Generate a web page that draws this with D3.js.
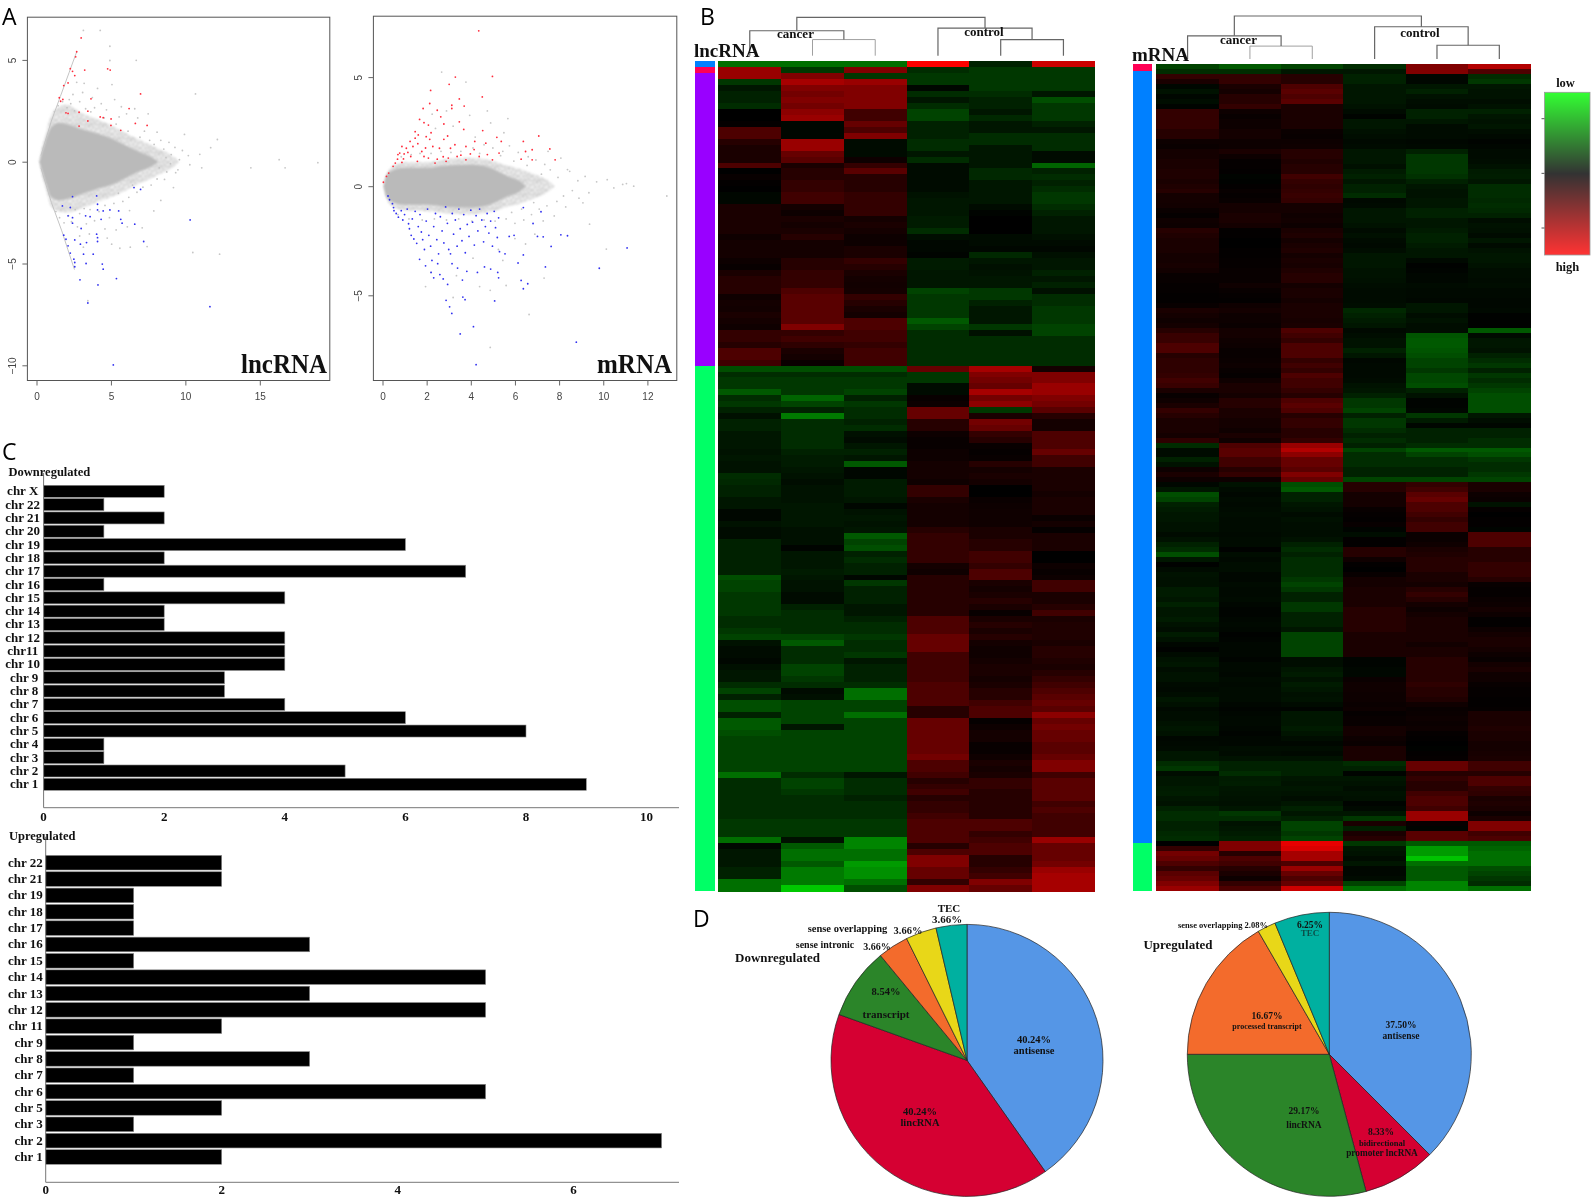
<!DOCTYPE html>
<html>
<head>
<meta charset="utf-8">
<title>lncRNA and mRNA expression</title>
<script src="https://cdn.jsdelivr.net/npm/d3@7"></script>
<style>
    html, body { margin: 0; padding: 0; background: #fff; }
    svg { display: block; filter: blur(0.45px); }
    .serif { font-family: "Liberation Serif", serif; font-weight: bold; fill: #111; }
    .letter { font-family: "Open Sans", sans-serif; font-size: 23px; fill: #000; }
</style>
</head>
<body>
<script>
// ---- panel A: MA plots, [A, M] ----
var lncEdgeUp = [[0.3, 0.3], [1, 2], [1.6, 3.2], [2.2, 4.4], [2.7, 5.4]];
var lncEdgeDown = [[0.3, -0.3], [1, -2], [1.7, -3.4], [2.1, -4.3], [2.55, -5.3]];
var lncHalo = [[0.2, 0, 0], [0.3, 0.45, -0.45], [0.6, 1.3, -1.25], [1, 2.3, -2.2], [1.5, 2.7, -2.45], [2, 2.8, -2.5], [3, 2.4, -2.3], [4, 2.1, -2], [5, 1.8, -1.75], [6, 1.4, -1.4], [7, 1.05, -1.05], [8, 0.7, -0.7], [9, 0.35, -0.35], [9.6, 0, 0]];
var lncCore = [[0.2, 0, 0], [0.35, 0.4, -0.4], [0.6, 1, -1], [1, 1.7, -1.75], [1.5, 1.9, -1.9], [2, 1.85, -1.85], [3, 1.6, -1.6], [4, 1.4, -1.35], [5, 1.15, -1.15], [6, 0.8, -0.8], [7, 0.45, -0.45], [7.8, 0.2, -0.2], [8.2, 0, 0]];
var lncGray = [[16.7, -0.3], [16.3, 0.1], [18.9, -0.05], [14.4, -0.3], [12.3, -4.54], [10.5, -4.46], [10.68, 3.33], [9.94, 1.34], [12.15, 1.09], [11.7, 0.69], [10.97, 0.36], [11.1, -0.3], [9.35, -0.54], [9.2, -1.27], [8.6, -0.87], [7.88, -2.42], [7.43, -4.17], [6.3, -4.2], [5.05, -4.05], [4.6, -3.3], [3.45, -6.83], [3.15, 6.45], [4.28, 6.45], [4.93, 5.67], [4.93, 4.97], [6.7, 4.98], [5.07, 3.79], [4.1, 3.6], [3.2, 3.85], [2.7, 3.9], [3.1, 3.4], [2.45, 3.3], [2.2, 3.05], [3.75, 3.15], [4.35, 2.85], [5.25, 3.05], [5.7, 2.7], [6.6, 2.6], [6.05, 2.35], [4.7, 2.55], [3.9, 2.65], [2.9, 2.95], [2.3, 2.85], [5.55, 2.2], [6.8, 2.15], [7.5, 2.35], [7.25, 1.5], [8.1, 1.45], [8.35, 1.05], [8.9, 0.95], [9.3, 0.7], [9.8, 0.55], [10.2, 0.3], [9.05, 0.35], [8.55, 0.62], [7.9, 0.85], [9.6, 0.1], [10.3, -0.15], [9.5, -0.4], [8.75, -0.5], [8.1, -0.85], [7.7, -1.15], [7.15, -1.25], [6.75, -1.5], [6.2, -1.75], [5.8, -1.95], [5.2, -2.05], [4.6, -2.15], [3.6, -2.35], [2.9, -2.55], [2.35, -2.95], [2.75, -3.2], [3.35, -3.05], [3.9, -2.9], [4.9, -2.75], [6.25, -2.4], [6.1, -3.2], [5.35, -3.35], [4.75, -3.75], [3.55, -3.55], [2.9, -3.65], [3.15, -4.2], [5.6, -4.25], [7.1, -3.25], [8.35, -1.9], [1.2, 2.45], [1.45, 2.75], [1.75, 2.95], [2.05, 2.65], [2.55, 2.5], [3.3, 2.6], [1.3, -2.45], [1.55, -2.75], [1.85, -3], [2.15, -2.65], [2.6, -2.35], [3.2, -2.3], [4.2, -2.45], [5.5, -1.55], [6.45, -1.15], [6.95, 1.2], [6.15, 1.5], [5.35, 1.85], [4.55, 2.15], [3.65, 2.45], [7.6, 1.05], [8.7, 0.2], [8.25, -0.3], [9, -0.1]];
var lncRed = [[3, 6.08], [2.7, 5.4], [2.63, 5.15], [2.27, 4.57], [2.42, 4.44], [2.57, 4.23], [3.24, 4.5], [4.78, 4.56], [4.95, 4.5], [2.12, 3.87], [1.83, 3.74], [1.53, 3.14], [1.77, 3.06], [1.62, 2.97], [3.66, 3.09], [6.99, 3.33], [6.22, 2.61], [1.98, 2.4], [2.12, 2.37], [2.86, 2.43], [3.45, 2.48], [4.28, 2.2], [4.48, 2.16], [5.01, 2.1], [3.45, 2], [2.86, 1.75], [5, 1.78], [6.64, 1.88], [7.43, 1.78], [5.66, 1.54]];
var lncBlue = [[6.99, -1.36], [6.55, -1.27], [2.42, -1.72], [4.04, -1.68], [4.1, -2.09], [1.74, -2.17], [2.27, -2.25], [4.1, -2.37], [4.48, -2.42], [4.93, -2.37], [5.52, -2.42], [2.12, -2.66], [3.3, -2.66], [3.6, -2.7], [2.42, -2.75], [4.34, -2.83], [5.66, -2.83], [10.32, -2.86], [5.75, -3.02], [6.6, -3.07], [3, -3.28], [2.42, -3.02], [1.83, -3.61], [4.04, -3.56], [4.1, -3.73], [1.98, -3.81], [2.57, -3.84], [4.1, -3.92], [7.2, -3.92], [2.12, -4.13], [2.95, -4.05], [3.36, -3.97], [2.27, -4.49], [3.16, -4.54], [3.81, -4.54], [2.51, -4.79], [2.57, -4.95], [3.33, -5], [4.42, -5.03], [2.57, -5.16], [4.48, -5.28], [5.37, -5.74], [2.92, -5.8], [4.13, -6.05], [3.45, -6.94], [11.65, -7.12], [5.16, -9.98]];

var mrnaHalo = [[0.05, 0, 0], [0.2, 0.6, -0.6], [0.5, 0.95, -0.95], [1, 1.1, -1.1], [2, 1.1, -1.15], [3, 1.25, -1.25], [4, 1.3, -1.3], [5, 1.15, -1.15], [5.6, 0.95, -0.95], [6.2, 0.8, -0.8], [7, 0.5, -0.5], [7.5, 0.25, -0.25], [7.8, 0, 0]];
var mrnaCore = [[0.05, 0, 0], [0.15, 0.4, -0.4], [0.4, 0.7, -0.7], [1, 0.85, -0.85], [2, 0.85, -0.85], [3, 0.95, -0.95], [4, 0.98, -0.98], [4.7, 0.9, -0.9], [5.2, 0.7, -0.7], [5.7, 0.45, -0.45], [6.2, 0.25, -0.25], [6.5, 0, 0]];
var mrnaGray = [[12.88, -0.45], [11.38, 0], [10.88, 0.08], [10.48, -0.08], [10.18, 0.3], [9.18, 0.45], [9.08, -0.76], [8.38, 0.76], [8.08, 1.29], [8.48, 0.68], [9.38, -1.74], [10.14, -2.88], [4.88, -7.39], [6.64, -5.88], [7.32, -4.21], [7.78, -1.36], [7.28, -1.59], [2.68, 5.23], [3.78, 4.77], [5.68, 3.1], [4.88, -4.77], [6.48, -2.65], [11.05, 0.12], [9.7, 0.2], [9.35, -0.3], [8.85, 0.25], [8.6, -0.2], [8.2, -0.45], [7.95, 0.4], [7.6, 0.75], [7.35, 1], [6.95, 1.2], [6.6, 1.35], [6.15, 1.55], [5.75, 1.85], [5.45, 1.6], [5, 1.75], [4.6, 1.9], [4.1, 1.75], [3.55, 1.6], [3.1, 1.55], [2.65, 1.6], [2.2, 1.5], [1.7, 1.5], [1.3, 1.45], [0.85, 1.35], [8.9, -0.55], [8.3, -0.95], [7.9, -0.7], [7.45, -0.9], [7.1, -1.05], [6.75, -1.3], [6.4, -1.55], [6, -1.7], [5.6, -1.5], [5.1, -1.6], [4.6, -1.55], [4.05, -1.6], [3.45, -1.5], [2.9, -1.55], [2.35, -1.5], [1.8, -1.55], [1.2, -1.5], [0.7, -1.3], [6.85, -0.75], [7.2, 0.55], [6.55, 0.95], [5.95, 1.15], [6.3, -1.05], [5.85, -1.2], [5.35, 1.4], [4.4, 1.5], [2.4, 2.65], [3.2, 2.75], [3.95, 3.25], [4.9, 2.9], [5.5, 2.45], [4.2, 2.25], [2.9, 3.45], [2.25, 3.3], [4.75, 3.45], [7.5, 1.6], [6.9, -2.2], [6, -2.4], [5.25, -2.9], [4.1, -3.3], [3.35, -4.1], [2.2, -3.95], [1.95, -4.6], [5.45, -3.4], [4.4, -4.6], [3.2, -5.1], [5.6, -4.55]];
var mrnaRed = [[4.36, 7.12], [3.3, 5], [4.98, 5.03], [3.02, 4.67], [2.18, 4.39], [4.52, 4.09], [3.48, 4], [3.14, 3.71], [3.7, 3.67], [2.14, 3.79], [1.84, 3.56], [2.48, 3.48], [3.14, 3.56], [2.64, 3.18], [1.68, 3.06], [1.88, 2.91], [2.08, 2.8], [2.78, 2.85], [3.48, 2.95], [3.68, 2.6], [4.54, 2.55], [7.08, 2.3], [5.18, 2.24], [1.48, 2.5], [1.62, 2.35], [1.98, 2.27], [2.14, 2.15], [2.78, 2.15], [1.48, 2.2], [6.38, 2.05], [4.18, 2.05], [3.28, 1.9], [3.78, 1.82], [5.38, 2.05], [0.88, 1.82], [1.08, 1.74], [1.38, 1.82], [1.78, 1.59], [2.28, 1.82], [2.58, 1.74], [3.08, 1.74], [7.58, 1.71], [4.68, 1.97], [6.78, 1.67], [6.48, 1.59], [0.78, 1.52], [0.98, 1.48], [1.28, 1.36], [1.88, 1.36], [2.08, 1.29], [2.48, 1.24], [2.98, 1.29], [3.38, 1.36], [3.98, 1.48], [4.38, 1.36], [5.28, 1.52], [6.28, 1.24], [6.78, 1.21], [7.82, 1.21], [0.68, 1.24], [0.58, 1.06], [0.88, 1.09], [1.58, 1.14], [2.38, 1.06], [2.88, 1.14], [3.78, 1.21], [4.98, 1.21], [0.48, 0.91], [0.28, 0.6], [0.18, 0.45], [0.04, 0.18], [1.15, 1.55], [1.6, 1.95], [2.2, 2.45], [2.95, 2.3], [3.55, 1.42], [4.75, 1.45], [0.7, 1.45], [0.95, 1.25], [1.95, 1.75], [2.75, 1.35], [4.15, 1.68], [1.25, 2.05]];
var mrnaBlue = [[11.08, -2.83], [9.82, -3.76], [8.78, -7.15], [4.24, -8.18], [3.52, -6.77], [4.12, -6.44], [3.04, -5.53], [2.88, -5.23], [3.64, -5.08], [3.74, -5.2], [5.08, -5.26], [3.14, -5.83], [6.38, -4.7], [6.58, -4.47], [6.28, -4.32], [7.38, -3.7], [6.38, -3.15], [6.14, -3.52], [8.38, -2.27], [8.08, -2.23], [7.64, -2.76], [7.28, -2.32], [7.02, -2.3], [7.18, -1.17], [6.82, -1.71], [6.38, -0.98], [0.25, -0.45], [0.32, -0.62], [0.45, -0.8], [0.5, -0.98], [0.52, -1.12], [0.62, -1.25], [0.72, -1.42], [0.85, -1.12], [0.92, -1.55], [1, -1.3], [1.12, -1.05], [1.18, -1.72], [1.22, -1.95], [1.3, -2.25], [1.35, -1.5], [1.42, -2.42], [1.48, -1.15], [1.55, -2.62], [1.62, -1.85], [1.7, -1.3], [1.76, -2.1], [1.82, -2.45], [1.9, -2.9], [1.98, -1.6], [2.04, -1.05], [2.1, -2.25], [2.18, -2.75], [2.24, -3.4], [2.32, -1.85], [2.4, -1.25], [2.46, -2.45], [2.54, -3.1], [2.62, -1.4], [2.7, -2.05], [2.78, -2.6], [2.86, -0.95], [2.94, -1.7], [3, -2.9], [3.08, -3.1], [3.16, -1.25], [3.22, -2.2], [3.3, -1.55], [3.38, -2.75], [3.46, -1.05], [3.52, -1.95], [3.6, -2.5], [3.68, -1.3], [3.75, -3.05], [3.84, -1.75], [3.92, -2.3], [4, -1.1], [4.08, -1.65], [4.16, -2.7], [4.24, -1.35], [4.32, -2.05], [4.4, -1.05], [4.5, -1.55], [4.58, -2.55], [4.66, -1.85], [4.74, -1.25], [4.82, -2.15], [4.9, -1.6], [4.98, -2.75], [5.06, -1.15], [5.12, -1.9], [5.2, -2.35], [5.26, -1.45], [5.3, -3], [5.74, -2.3], [5.96, -2.25], [1.68, -3.35], [1.95, -3.65], [2.2, -3.95], [2.5, -3.55], [2.32, -4.2], [2.6, -4.05], [2.95, -4.5], [2.75, -4.25], [3.4, -3.75], [3.82, -3.9], [3.62, -4.3], [4.3, -3.95], [4.62, -3.7], [4.9, -3.8], [5.22, -3.95], [5.26, -4.2], [3.15, -3.55], [5.55, -3.1]];
// dots of the tile that fills the thin outer part of each cloud
var stippleDots = [[1.5, 2], [5, 0.8], [9.2, 1.6], [12.4, 3], [3.2, 5], [7, 4.4], [10.8, 6], [0.8, 8], [5.4, 8.2], [8.6, 7.8], [12.8, 8.6], [2.6, 11], [6.6, 11.4], [10.2, 10.4], [1, 13], [4.6, 13.2], [8.2, 12.8], [12, 12.4]];

// ---- panel B: heatmap rows, one value per sample, minus = green, plus = red ----
var lncRows = [
    [-5,-5,-5,10,-1.5,8], [6,-2.5,5,-2,-2.5,-2.5], [6,5,-2.5,-2.5,-2.5,-2.5], [-2.5,6.5,6,-2.5,-2.5,-2.5], [-1,5,5,-0.3,-2.5,-2.5],
    [-1.5,4.5,5,-2,-2,-1], [-1.5,5,5,-1,-1.5,-3.5], [-2,4.5,5,-2,-1.5,-2.5], [0,5.5,2.5,-3,-1,-2.5], [0,6,2.5,-3,-1.8,-2.5],
    [0.2,-0.3,4,-1.5,-1,-1.5], [3,-0.3,3,-1.5,-1,-1], [3,-0.3,5,-1.5,-2,-2], [1.5,6,-0.5,-2,-2,-2], [1,6,-0.5,-2,-1,-2],
    [1,4,-0.5,-1,-1,-0.5], [1,3.5,0.5,-2,-1,-0.5], [3,1,2,-0.5,-1,-4.5], [0,1.5,3.5,-0.5,-1.8,-1.5], [0.3,1.5,1.5,-0.5,-1.8,-2],
    [0.1,2,1.5,-0.5,-1,-1.5], [0,2,1.5,-0.5,-1,-2], [-0.3,2.5,2,-0.8,-1,-2.5], [-0.3,2.5,2,-1,-1,-2.5], [1,0.8,2,-1,-0.5,-2],
    [1,0.5,2,-1,-0.2,-1.5], [1,1,0.8,-1.2,0,-1], [1,0.8,1,-1.2,0,-1], [1,1,0.8,-2,0,-1], [0.6,1.5,0.5,-0.6,-0.5,-0.7],
    [0.8,0.8,0.5,-0.3,-0.5,-0.5], [0.8,0.8,1,-0.3,-0.3,-0.3], [0.8,0.8,1,-0.2,-1.8,-0.7], [0.5,1.5,2,-1.2,-1,-1], [0.3,1.5,1.5,-1.2,-0.7,-1],
    [1,2,1,-1,-0.8,-1.5], [1.5,2,0.8,-1,-1,-1], [1.5,2,0.7,-1,-1,-1.5], [1.5,3,0.8,-3,-2.5,-0.7], [0.6,3.5,2,-2.5,-2.5,-2],
    [0.8,3.5,1.5,-2.5,-1.5,-2], [0.7,3.5,1,-2.5,-1,-2.5], [1,3.5,0.8,-2.5,-1,-2.5], [0.8,3.5,3,-4,-1,-2.5], [0.6,5,3,-3,-2.5,-3],
    [2,2,2.5,-2,-0.7,-3], [2,2.5,2.5,-2,-2,-2], [1.5,1.8,2,-2,-2,-2], [3,1,2.5,-2,-2,-2], [3,0.8,2.5,-2,-2,-2],
    [2.5,0.4,2.5,-2,-2,-2], [-3.5,-3.5,-3.5,4,6.5,0.8], [-2,-2,-2,-2.5,5,5], [-2.5,-2.5,-2.5,-2.5,4.5,5], [-2.5,-2.5,-2.5,-0.5,4,6],
    [-4,-2.5,-3,-0.5,6.5,6], [-2,-4.5,-1.5,0.3,4.5,5], [-2.5,-3,-2.5,0.5,5.5,4.5], [-1.5,-1.5,-2,4,-2.5,3.5], [-0.7,-5.5,-2,4,1,1.5],
    [-1.5,-2,-1.5,1.5,4.5,0.8], [-1.5,-2,-2,1.5,4,0.8], [-1,-2,-0.7,0.5,2,3], [-1,-2,-0.5,0.3,1.5,3], [-1,-2,-1,0.3,0.3,3],
    [-0.8,-1.5,-1.5,0.5,0.2,4], [-1,-1.2,-1,0.5,0.3,2.5], [-0.8,-1.2,-4,0.8,1.5,2.5], [-0.8,-1,-0.3,0.8,0.8,1], [-2,-0.8,-0.3,0.8,1,1],
    [-1.8,-0.6,-1.2,0.6,0.8,1], [-1.5,-0.8,-1.2,2,0,1], [-1.5,-0.8,-1.2,2,0,0.8], [-1,-0.8,-1,1,0.4,1], [-1,-1,-0.3,0.8,0.5,1],
    [-0.3,-1,-0.8,0.8,0.6,1], [-0.3,-1,-1,0.8,0.6,0.4], [-0.8,-1,-0.8,0.8,0.6,0.8], [-0.5,-0.7,-1,1.5,1,0.2], [-0.5,-0.7,-4,2,1,1],
    [-1.5,-0.7,-3,2,1.5,1], [-1.5,-0.2,-3.5,2,1.5,1], [-1.5,-1,-1.5,2,2.5,0], [-1.5,-1,-2,2,2.5,0], [-1.5,-1,-1.5,0.8,2,0.5],
    [-1.5,-1.2,-1.5,0.6,3,0.3], [-3.5,-1,-0.3,1.5,3,0.5], [-3,-0.8,-2.5,1.5,1,2.5], [-3,-0.8,-1.5,1.5,0.8,2.5], [-2.5,-0.5,-1.5,1.5,1,1],
    [-2.5,-0.5,-1.5,1.5,1.5,1], [-2.5,-1.5,-1,1.5,1,1.5], [-2.5,-2,-1,1.5,0.3,2.5], [-2,-2,-1.5,3,1,1], [-2,-2,-2,3,1.5,1.2],
    [-2.5,-2,-2,3,1,1.2], [-3,-3,-2.5,4,1.5,1.2], [-0.8,-4,-2,4,0.8,1], [-0.5,-2,-2,4,0.6,1.5], [-0.5,-2,-2.5,2.5,0.6,1.5],
    [-0.3,-2,-1,2.5,0.8,1.2], [-0.7,-3,-1.5,2.5,1,1], [-1,-3,-1.5,2.5,1,1.5], [-1,-2.5,-1.5,2.5,0.8,2], [-2,-2,-2,3,1,2.5],
    [-3,-0.5,-5,3,1.5,3], [-1.5,-0.7,-5,3,1.5,3.5], [-3.5,-3,-3,3,2.5,4], [-3.5,-3,-3,1.5,3,3.5], [-1.5,-3,-5,1.5,3,5.5],
    [-4,-3,-3,4,0.2,4], [-4,-1,-3,4,0.5,4.5], [-3.5,-3,-3,4,0.8,4], [-3,-3,-3,4,0.8,4], [-3,-3,-3,4,0.3,3.5],
    [-3,-3,-3,4,0.3,3.5], [-3,-3,-3,4.5,0.6,4], [-3,-3,-3,3,1,5], [-3,-3,-3,3,0.8,5], [-5,-2,-1,2.5,1,2.5],
    [-2,-3,-2,1.5,2,3.5], [-2,-3,-2,2,2,3.5], [-2,-2.5,-2,2.5,1.5,3.5], [-2,-2,-1.5,1.5,1.5,3.5], [-2,-2,-2,2,1.5,2.5],
    [-2,-2,-2,2,1.5,3], [-2,-2,-2,2.5,1.5,2.5], [-2.5,-2.5,-2.5,3,3,2.5], [-2.5,-2.5,-2.5,3,3,2.5], [-2.5,-2.5,-2.5,3,2,2.5],
    [-5,-0.7,-6,3,2.5,6], [-0.4,-4,-6,1.5,3,4], [-1,-5,-5,3,3,4], [-1,-5,-5,5,1.5,4], [-1,-4,-7,5,1.5,4.5],
    [-1.5,-5.5,-6.5,4,2,6], [-1.5,-5.5,-6.5,4,2.5,6.5], [-5,-5.5,-5,2,5,6.5], [-5,-9,-3.5,5,4,6.5]
];
var mrnaRows = [
    [-3,-4,-3,-2,5,7], [-2,-2,-1,-1,5,3], [2,2,1.5,-1.5,-0.3,-2], [1,2,1.5,-1.5,-0.3,-2.5], [-0.3,1,3,-1,-1,-1],
    [-0.8,0.8,3.5,-1,-1.5,-0.8], [-0.3,1.5,3,-1,-0.8,-0.8], [-0.6,1.5,3.5,-1,-0.6,-0.6], [-0.2,2,1,-0.8,-0.5,-0.8], [2,0.5,1,-0.5,-1.5,-1.5],
    [2,0.3,1,-0.2,-1.5,-1], [2,0.5,1,-1,-1,-0.8], [2,0.5,1,-1,-0.5,-1], [1.5,0.8,0.4,-0.7,-0.5,-0.6], [1.5,0.8,0.3,-0.6,-0.5,-0.4],
    [0.5,0.5,0.5,-0.4,-0.3,-0.2], [0.4,0.5,0.6,-0.5,-0.4,-0.3], [0.8,1,1.5,-1,-1.5,-0.5], [0.8,0.5,1.5,-1,-2.5,-0.5], [1,0.2,1.2,-1,-2.5,-0.6],
    [1,0.2,1.5,-0.7,-2.5,-0.8], [1.2,0.1,1.5,-1.2,-2.5,-1.2], [1.2,-0.2,2.5,-1.5,-2.2,-1.3], [1,-0.1,2,-1,-1.5,-1], [1.2,0.1,1.8,-1.5,-1,-2],
    [1.5,0.3,2,-1.5,-0.8,-2], [0.8,0.2,2.2,-2,-0.8,-2], [0.8,0.3,2,-0.4,-1,-1.8], [0.7,0.8,0.8,-0.5,-1,-2], [0.4,0.8,0.8,-1,-1.5,-1.8],
    [0.2,1,0.6,-1,-1.5,-1.5], [0.6,1,0.7,-1,-1,-0.6], [0.5,0.8,0.5,-0.8,-1,-0.8], [1.5,0.1,1,-0.5,-1.2,-0.7], [1.2,0.1,1.2,-0.7,-1.5,-0.5],
    [1,0,0.8,-0.5,-1.5,-1], [1,0,1,-0.4,-1.2,-0.5], [1,0.1,1.2,-0.6,-1,-0.8], [0.8,0.1,0.8,-1,-1,-1], [0.8,0.2,1,-1,-0.4,-1],
    [0.9,0.2,0.9,-1,-0.1,-0.8], [0.7,0.3,1.2,-0.8,-0.2,-0.6], [0.3,0.3,1.5,-0.8,-0.3,-0.6], [0.3,0.3,1.5,-0.7,-0.3,-0.5], [0.2,0.6,0.8,-0.6,-0.5,-0.6],
    [0.2,0.3,1,-0.5,-0.4,-0.4], [0.1,0.2,1,-0.5,-0.4,-0.4], [0.1,0.1,0.8,-0.5,-0.3,-0.3], [0.3,0.6,1,-0.6,-1,-0.3], [1,0.8,1,-1.8,-1,-0.4],
    [0.8,0.5,1,-1.5,-0.6,-0.1], [0.6,0.5,0.9,-1.2,-0.8,-0.1], [0.8,0.4,1,-1,-0.6,-0.1], [1.5,0.8,3,-0.4,-0.6,-4], [2.2,0.8,2.5,-0.6,-3.8,-0.5],
    [2.2,0.6,2,-0.8,-4,-1], [3,0.5,3,-0.8,-4,-1], [3,0.3,3,-1.5,-3.8,-0.8], [1.5,0.3,3,-1,-3.5,-1.5], [1.8,0.4,2,-0.3,-3,-2],
    [1.8,0.5,2.5,-0.4,-3,-2.5], [1.8,0.3,2,-0.4,-2.5,-1.5], [2,0.2,3,-0.4,-3.2,-2.5], [2.5,0.6,2.5,-0.5,-3.2,-2], [2.2,1,2.5,-0.8,-3.5,-2.5],
    [1,1,2,-1,-1.5,-3], [0.3,0.8,1.5,-1.5,-0.8,-3.5], [0.6,1.5,3,-2.5,-0.2,-3.5], [1,1.5,3.5,-2.5,-0.2,-3.5], [2,1,3,-3,-0.3,-3.5],
    [1.5,1,1.5,-1.5,-2.5,-1], [1,0.8,2,-2.5,-1.2,-0.6], [1,0.8,2,-2.5,-0.3,-0.3], [1,0.6,1.5,-2,-1.5,-1.5], [0.8,1,1.5,-1.5,-1.5,-1.5],
    [1.8,0.6,2,-2,-1.5,-2], [-2,3,6,-1.5,-2,-2], [-0.5,3.5,7,-3,-4,-4], [-0.5,3.5,5.5,-2,-3,-3.5], [-1.5,2.5,4,-2,-2,-2.5],
    [-0.8,2.5,4,-2,-2,-2], [0.5,1.5,3.5,-1.5,-1.5,-2], [1,2,5,-1.5,-1.5,-2.5], [0.5,0.5,4,-3,-3,-3], [-0.3,-0.8,-3.5,1.5,2,1],
    [-1,-0.5,-4,1.5,2.5,1], [-3.5,-0.3,-1.5,0.8,3.5,0.5], [-3,-0.5,-1.5,0.8,4,0.4], [-1.5,-0.4,-1,0.8,3,-0.8], [-1.2,-0.5,-0.8,0.3,3,0.2],
    [-1,-0.6,-0.5,0.2,2.5,0], [-1,-0.5,-0.7,0.1,2,0.1], [-0.8,-0.5,-0.6,0.3,2.5,0.1], [-0.8,-0.5,-0.6,-0.2,2.5,-0.2], [-0.5,-0.4,-0.6,-0.6,0.4,3],
    [-0.8,-0.5,-0.8,0.1,0.4,3], [-1.5,-0.5,-1.5,0.1,0.6,3], [-2,-0.1,-2,1.5,1,1.5], [-3.5,-0.6,-1.5,1.5,1.2,1.5], [-1,-0.4,-2,0.6,1.5,1.5],
    [-0.1,-0.6,-2,0.1,1.5,2], [-0.5,-0.6,-2,0,1.5,2], [-0.8,-0.3,-2,0.3,1,2], [-0.7,-0.3,-2.5,0.8,1,1.5], [-0.7,-0.5,-3,0.8,0.8,0.3],
    [-1.2,-0.4,-2.5,1,1.5,0.2], [-1.2,-0.4,-1.5,1,2,0.2], [-1,-0.5,-1.5,1,1.5,0.4], [-1.5,-0.3,-2.5,1,0.8,0.5], [-1,-0.2,-2.5,1.5,0.5,0.8],
    [-1,-0.2,-1.5,1.5,0.8,0.5], [-1.2,-0.3,-1.5,1.5,1,0.1], [-0.8,-0.4,-1.5,1.5,1,0.1], [-0.6,-0.3,-1,1.5,1,0.5], [-1.2,-0.1,-3,1,1,0.8],
    [-0.8,-0.2,-3,1,1,1], [-0.3,-0.3,-3,1,0.7,1], [-0.1,-0.3,-3,1,1,0.8], [-0.5,-0.3,-3,1,1,0.5], [-0.8,-0.2,-0.6,-0.2,1.5,0.3],
    [-1,-0.4,-0.6,-0.2,1.5,0.8], [-0.6,-0.4,-1,-0.3,1.5,1], [-0.8,-0.3,-1.2,-0.3,1.5,0.6], [-0.8,-0.5,-0.8,0.4,1.5,0.6], [-0.5,-0.4,-1.2,0.6,1.8,0.3],
    [-0.4,-0.5,-1,0.6,1.5,0.2], [-0.6,-0.5,-0.7,0.5,1.5,0.2], [-1,-0.5,-0.8,0.5,1.2,0.1], [-0.7,-0.3,-0.5,0.4,0.6,0.1], [-0.4,-0.2,-0.2,0.5,0.3,0.2],
    [-0.6,-0.3,-1,0.2,0.4,1], [-0.6,-0.4,-1,0.3,0.5,1], [-0.8,-0.4,-1,0.3,0.4,1], [-1,-0.3,-1.2,0.8,0.5,1.2], [-0.8,-0.2,-0.9,0.8,0.2,1],
    [-0.3,-0.3,-0.6,0.5,0.1,1], [-0.4,-0.3,-0.3,0.4,0,0.8], [-0.5,-0.6,-0.6,1,-0.1,0.8], [-1,-0.5,-0.4,1,0.1,0.9], [-1,-0.8,-0.8,1,0.2,1],
    [-2,-1.5,-1.5,-2,4,2.5], [-2.5,-1.5,-1.5,-1.5,4,2.5], [-0.6,-2,-1.5,-0.2,1.5,1.5], [-1,-1.2,-1,-1,2,3], [-1,-1.3,-0.8,-0.8,1.5,3],
    [-1.2,-1,-1,-0.6,1.5,2], [-1.3,-0.9,-0.8,-0.8,2.5,1.8], [-1,-0.8,-0.6,-0.7,3,1], [-0.8,-0.7,-1,-0.2,3,1.2], [-1.5,-1,-1.5,-0.4,2.5,1],
    [-2,-2.5,-1,-1,6,0.5], [-2,-2,-1.5,-2.5,6,1], [-1.5,-0.8,-3,1,0.3,5], [-1.5,-1,-3,-1.5,-0.2,5], [-1.8,-1.2,-2.5,1,3.5,2.5],
    [-2,-1.5,-3,1.5,3.5,3], [0,5,9,-2.5,-4,-4], [2,5,8.5,-1,-7,-4.5], [4.5,1.5,6.5,-0.8,-7,-5], [4,3,6.5,-0.5,-8.8,-5],
    [3,2.5,3,-1,-5,-5], [2,1.5,6,-0.3,-4,-3.5], [3.5,1,4,-0.3,-4,-3], [4,0.5,3,-0.5,-4,-2.5], [5,2,4,-3,-6,-2],
    [6,3,8,-5,-6,-5]
];
// side strips: row count per cluster colour
var lncStrip = [1, 1, 49, 88];
var lncStripColors = ["#0080ff", "#ff0055", "#9900ff", "#00ff66"];
var mrnaStrip = [1.5, 154.9, 9.6];
var mrnaStripColors = ["#ff0055", "#0080ff", "#00ff66"];
var samples = ["c1", "c2", "c3", "n1", "n2", "n3"];
// merges: two node ids and the height of the join, 0 to 100
var lncMerges = [["c2", "c3", 42], ["c1", 0, 65], ["n2", "n3", 42], ["n1", 2, 72], [1, 3, 100]];
var mrnaMerges = [["c2", "c3", 30], ["c1", 0, 54], ["n2", "n3", 32], ["n1", 2, 75], [1, 3, 100]];

// ---- panel C: gene counts per chromosome ----
var downChr = ["chr 1", "chr 2", "chr 3", "chr 4", "chr 5", "chr 6", "chr 7", "chr 8", "chr 9", "chr 10", "chr11", "chr 12", "chr 13", "chr 14", "chr 15", "chr 16", "chr 17", "chr 18", "chr 19", "chr 20", "chr 21", "chr 22", "chr X"];
var downCount = [9, 5, 1, 1, 8, 6, 4, 3, 3, 4, 4, 4, 2, 2, 4, 1, 7, 2, 6, 1, 2, 1, 2];
var upChr = ["chr 1", "chr 2", "chr 3", "chr 5", "chr 6", "chr 7", "chr 8", "chr 9", "chr 11", "chr 12", "chr 13", "chr 14", "chr 15", "chr 16", "chr 17", "chr 18", "chr 19", "chr 21", "chr 22"];
var upCount = [2, 7, 1, 2, 5, 1, 3, 1, 2, 5, 3, 5, 1, 3, 1, 1, 1, 2, 2];

// ---- panel D: biotype shares ----
var downShare = [40.24, 40.24, 8.54, 3.66, 3.66, 3.66];
var downColors = ["#5596e6", "#d50032", "#2b8529", "#f36b2c", "#e8d718", "#00b0a0"];
var upShare = [37.5, 8.33, 29.17, 16.67, 2.08, 6.25];
var upColors = ["#5596e6", "#d50032", "#2b8529", "#f36b2c", "#e8d718", "#00b0a0"];

var svg = d3.select("body").append("svg")
    .attr("width", 1591)
    .attr("height", 1197)
    .attr("viewBox", "0 0 1591 1197");

var defs = svg.append("defs");

var stipple = defs.append("pattern")
    .attr("id", "stipple")
    .attr("width", 14)
    .attr("height", 14)
    .attr("patternUnits", "userSpaceOnUse");
stipple.append("rect").attr("width", 14).attr("height", 14).attr("fill", "#ececec");
stipple.selectAll("circle").data(stippleDots).join("circle")
    .attr("cx", function (d) { return d[0]; })
    .attr("cy", function (d) { return d[1]; })
    .attr("r", 1)
    .attr("fill", "#bdbdbd");

defs.append("filter").attr("id", "soft")
    .append("feGaussianBlur").attr("stdDeviation", 1);

function note(x, y, txt, size, anchor, color) {
    return svg.append("text")
        .attr("class", "serif")
        .attr("x", x)
        .attr("y", y)
        .attr("text-anchor", anchor || "middle")
        .style("font-size", size + "px")
        .style("fill", color || "#111")
        .text(txt);
}

function maPlot(opt) {
    var x = d3.scaleLinear().domain(opt.xDomain).range(opt.xRange);
    var y = d3.scaleLinear().domain(opt.yDomain).range(opt.yRange);
    var g = svg.append("g");

    var area = d3.area()
        .x(function (d) { return x(d[0]); })
        .y0(function (d) { return y(d[2]); })
        .y1(function (d) { return y(d[1]); })
        .curve(d3.curveMonotoneX);

    g.append("path").attr("d", area(opt.halo)).attr("fill", "url(#stipple)").attr("filter", "url(#soft)");
    g.append("path").attr("d", area(opt.core)).attr("fill", "#bababa").attr("filter", "url(#soft)");

    (opt.edges || []).forEach(function (edge) {
        g.append("path")
            .attr("d", d3.line().x(function (d) { return x(d[0]); }).y(function (d) { return y(d[1]); })(edge))
            .attr("fill", "none")
            .attr("stroke", "#c4c4c4");
    });

    [[opt.gray, "#c6c6c6", 0.9], [opt.red, "#ff2a3a", 0.9], [opt.blue, "#3030f0", 0.9]].forEach(function (s) {
        g.append("g").selectAll("circle").data(s[0]).join("circle")
            .attr("cx", function (d) { return x(d[0]); })
            .attr("cy", function (d) { return y(d[1]); })
            .attr("r", s[2])
            .attr("fill", s[1]);
    });

    g.append("rect")
        .attr("x", opt.box[0])
        .attr("y", opt.box[1])
        .attr("width", opt.box[2] - opt.box[0])
        .attr("height", opt.box[3] - opt.box[1])
        .attr("fill", "none")
        .attr("stroke", "#555");

    var xAxis = g.append("g")
        .attr("transform", "translate(0," + opt.box[3] + ")")
        .call(d3.axisBottom(x).tickValues(opt.xTicks).tickSize(5).tickPadding(7));
    var yAxis = g.append("g")
        .attr("transform", "translate(" + opt.box[0] + ",0)")
        .call(d3.axisLeft(y).tickValues(opt.yTicks).tickSize(5).tickFormat(function (d) { return d < 0 ? "\u2212" + (-d) : d; }));

    [xAxis, yAxis].forEach(function (a) {
        a.select(".domain").remove();
        a.selectAll("line").attr("stroke", "#666");
        a.selectAll("text").style("font-family", "Liberation Sans, sans-serif").style("font-size", "10px").style("fill", "#444");
    });
    yAxis.selectAll("text")
        .attr("text-anchor", "middle")
        .attr("transform", "translate(-15,0) rotate(-90)")
        .attr("x", 0)
        .attr("y", 0)
        .attr("dy", "0.32em");
}

maPlot({
    xDomain: [0, 15], xRange: [36.5, 259.8], yDomain: [-10, 5], yRange: [365.3, 59.9],
    box: [27.4, 17.2, 329.8, 380.5],
    xTicks: [0, 5, 10, 15], yTicks: [-10, -5, 0, 5],
    halo: lncHalo, core: lncCore, gray: lncGray, red: lncRed, blue: lncBlue,
    edges: [lncEdgeUp, lncEdgeDown]
});
maPlot({
    xDomain: [0, 12], xRange: [382.5, 647.4], yDomain: [-5, 5], yRange: [295.3, 77.1],
    box: [373.4, 16.2, 676.8, 380.5],
    xTicks: [0, 2, 4, 6, 8, 10, 12], yTicks: [-5, 0, 5],
    halo: mrnaHalo, core: mrnaCore, gray: mrnaGray, red: mrnaRed, blue: mrnaBlue
});
note(327, 373, "lncRNA", 27, "end").attr("textLength", 86).attr("lengthAdjust", "spacingAndGlyphs");
note(672, 373, "mRNA", 27, "end").attr("textLength", 75).attr("lengthAdjust", "spacingAndGlyphs");

var heatColor = d3.scaleLinear().domain([-11.5, 0, 10]).range(["#00ff00", "#000000", "#ff0000"]).clamp(true);

function heatmap(rows, opt) {
    var col = d3.scaleBand().domain(samples).range(opt.x);
    var row = d3.scaleLinear().domain([0, rows.length]).range(opt.y);
    var g = svg.append("g").attr("shape-rendering", "crispEdges");

    rows.forEach(function (values, i) {
        g.append("g").selectAll("rect").data(values).join("rect")
            .attr("x", function (d, j) { return col(samples[j]); })
            .attr("y", row(i))
            .attr("width", col.bandwidth())
            .attr("height", row(i + 1) - row(i) + 0.5)
            .attr("fill", function (d) { return heatColor(d); });
    });

    // cluster strip on the left
    var at = 0;
    opt.strip.forEach(function (n, i) {
        g.append("rect")
            .attr("x", opt.stripX[0])
            .attr("y", row(at))
            .attr("width", opt.stripX[1] - opt.stripX[0])
            .attr("height", row(at + n) - row(at))
            .attr("fill", opt.stripColors[i]);
        at += n;
    });

    // sample tree
    var hgt = d3.scaleLinear().domain([0, 100]).range(opt.tree);
    var nodes = [];
    function pos(id) {
        if (typeof id === "string") {
            return { x: col(id) + col.bandwidth() / 2, h: 0 };
        }
        return nodes[id];
    }
    opt.merges.forEach(function (m, i) {
        var a = pos(m[0]), b = pos(m[1]);
        var p = d3.path();
        p.moveTo(a.x, hgt(a.h));
        p.lineTo(a.x, hgt(m[2]));
        p.lineTo(b.x, hgt(m[2]));
        p.lineTo(b.x, hgt(b.h));
        svg.append("path")
            .attr("d", p.toString())
            .attr("fill", "none")
            .attr("stroke", i === 0 ? "#a0a0a0" : "#666")
            .attr("stroke-width", i === 0 ? 1 : 1.2);
        nodes.push({ x: (a.x + b.x) / 2, h: m[2] });
    });
}

heatmap(lncRows, {
    x: [718.4, 1094.8], y: [61, 891], tree: [55.7, 17.3],
    strip: lncStrip, stripColors: lncStripColors, stripX: [695, 714.5], merges: lncMerges
});
heatmap(mrnaRows, {
    x: [1156.4, 1530.5], y: [64, 890.8], tree: [59, 16],
    strip: mrnaStrip, stripColors: mrnaStripColors, stripX: [1132.6, 1152.4], merges: mrnaMerges
});

note(694, 57, "lncRNA", 19, "start");
note(795.5, 38, "cancer", 13);
note(984, 36, "control", 13);
note(1132, 61, "mRNA", 19, "start");
note(1238.5, 44, "cancer", 13);
note(1420, 37, "control", 13);

// colour key
var keyGrad = defs.append("linearGradient").attr("id", "keyGrad").attr("x1", 0).attr("x2", 0).attr("y1", 0).attr("y2", 1);
[[0, "#33ff33"], [0.5, "#333333"], [1, "#ff3333"]].forEach(function (s) {
    keyGrad.append("stop").attr("offset", s[0]).attr("stop-color", s[1]);
});
svg.append("rect")
    .attr("x", 1544.5).attr("y", 92.3).attr("width", 45.5).attr("height", 162.7)
    .attr("fill", "url(#keyGrad)")
    .attr("stroke", "#999").attr("stroke-width", 0.8);
var keyScale = d3.scaleLinear().domain([-1, 1]).range([228, 118.7]);
svg.append("g").selectAll("line").data([-1, 0, 1]).join("line")
    .attr("x1", 1541.5).attr("x2", 1544.5)
    .attr("y1", function (d) { return keyScale(d); })
    .attr("y2", function (d) { return keyScale(d); })
    .attr("stroke", "#555");
note(1565.5, 87, "low", 12.5);
note(1567.5, 271, "high", 12.5);

function hbar(names, values, opt) {
    var x = d3.scaleLinear().domain([0, opt.xMax]).range([opt.x0, opt.x1]);
    var y = d3.scalePoint().domain(names).range(opt.y);

    svg.append("g").selectAll("rect").data(values).join("rect")
        .attr("x", opt.x0)
        .attr("y", function (d, i) { return y(names[i]) - opt.barH / 2; })
        .attr("width", function (d) { return x(d) - opt.x0; })
        .attr("height", opt.barH)
        .attr("fill", "#000")
        .attr("stroke", "#8a8a8a")
        .attr("stroke-width", 0.6);

    var g = svg.append("g");
    g.append("path")
        .attr("d", "M" + opt.x0 + "," + opt.top + "V" + opt.base + "H" + opt.axisEnd)
        .attr("fill", "none")
        .attr("stroke", "#777");

    g.append("g").selectAll("text").data(names).join("text")
        .attr("class", "serif")
        .attr("x", function (d) { return opt.labelX - (d.length < 6 ? opt.shortShift : 0); })
        .attr("y", function (d) { return y(d) + 4; })
        .attr("text-anchor", "end")
        .style("font-size", "13px")
        .text(function (d) { return d; });

    g.append("g").selectAll("text").data(opt.ticks).join("text")
        .attr("class", "serif")
        .attr("x", function (d) { return x(d); })
        .attr("y", opt.tickY)
        .attr("text-anchor", "middle")
        .style("font-size", "13px")
        .text(function (d) { return d; });
}

hbar(downChr, downCount, {
    xMax: 10, x0: 43.6, x1: 646.6, y: [784.3, 491.3], barH: 12,
    top: 473, base: 807.7, axisEnd: 679, labelX: 40, shortShift: 1.7, tickY: 821, ticks: [0, 2, 4, 6, 8, 10]
});
hbar(upChr, upCount, {
    xMax: 7, x0: 45.7, x1: 661.6, y: [1157, 862.7], barH: 14.6,
    top: 836.7, base: 1182.3, axisEnd: 679, labelX: 42.7, shortShift: 0, tickY: 1194, ticks: [0, 2, 4, 6]
});
note(8.5, 476, "Downregulated", 12.5, "start");
note(9, 840, "Upregulated", 12.5, "start");

function pie(values, colors, cx, cy, r) {
    var arcs = d3.pie().sort(null)(values);
    var arc = d3.arc().innerRadius(0).outerRadius(r);
    svg.append("g")
        .attr("transform", "translate(" + cx + "," + cy + ")")
        .selectAll("path").data(arcs).join("path")
        .attr("d", arc)
        .attr("fill", function (d, i) { return colors[i]; })
        .attr("stroke", "#222")
        .attr("stroke-width", 0.7);
}

pie(downShare, downColors, 967, 1060.4, 136);
pie(upShare, upColors, 1329.3, 1054.3, 142);

note(777.5, 962, "Downregulated", 13);
note(847.5, 932, "sense overlapping", 10.5);
note(908, 934, "3.66%", 10.5);
note(825, 948, "sense intronic", 10);
note(877, 950, "3.66%", 10);
note(949, 912, "TEC", 11);
note(947, 923, "3.66%", 11);
note(886, 995, "8.54%", 10.5);
note(886, 1018, "transcript", 11);
note(1034, 1043, "40.24%", 10.5);
note(1034, 1054, "antisense", 10.5);
note(920, 1115, "40.24%", 10.5);
note(920, 1126, "lincRNA", 10.5);

note(1178, 949, "Upregulated", 13);
note(1223, 928, "sense overlapping 2.08%", 8.5);
note(1310, 928, "6.25%", 9.5);
note(1310, 936, "TEC", 9, "middle", "#0b4f49");
note(1401, 1028, "37.50%", 9.5);
note(1401, 1039, "antisense", 9.5);
note(1267, 1019, "16.67%", 9.5);
note(1267, 1029, "processed transcript", 8);
note(1304, 1114, "29.17%", 9.5);
note(1304, 1128, "lincRNA", 9.5);
note(1381, 1135, "8.33%", 9.5);
note(1382, 1146, "bidirectional", 8.5);
note(1382, 1156, "promoter lncRNA", 9.3);

// panel letters
[["A", 2, 25], ["B", 700, 25], ["C", 2, 460], ["D", 693, 927]].forEach(function (d) {
    svg.append("text").attr("class", "letter").attr("x", d[1]).attr("y", d[2]).text(d[0]);
});
</script>
</body>
</html>
